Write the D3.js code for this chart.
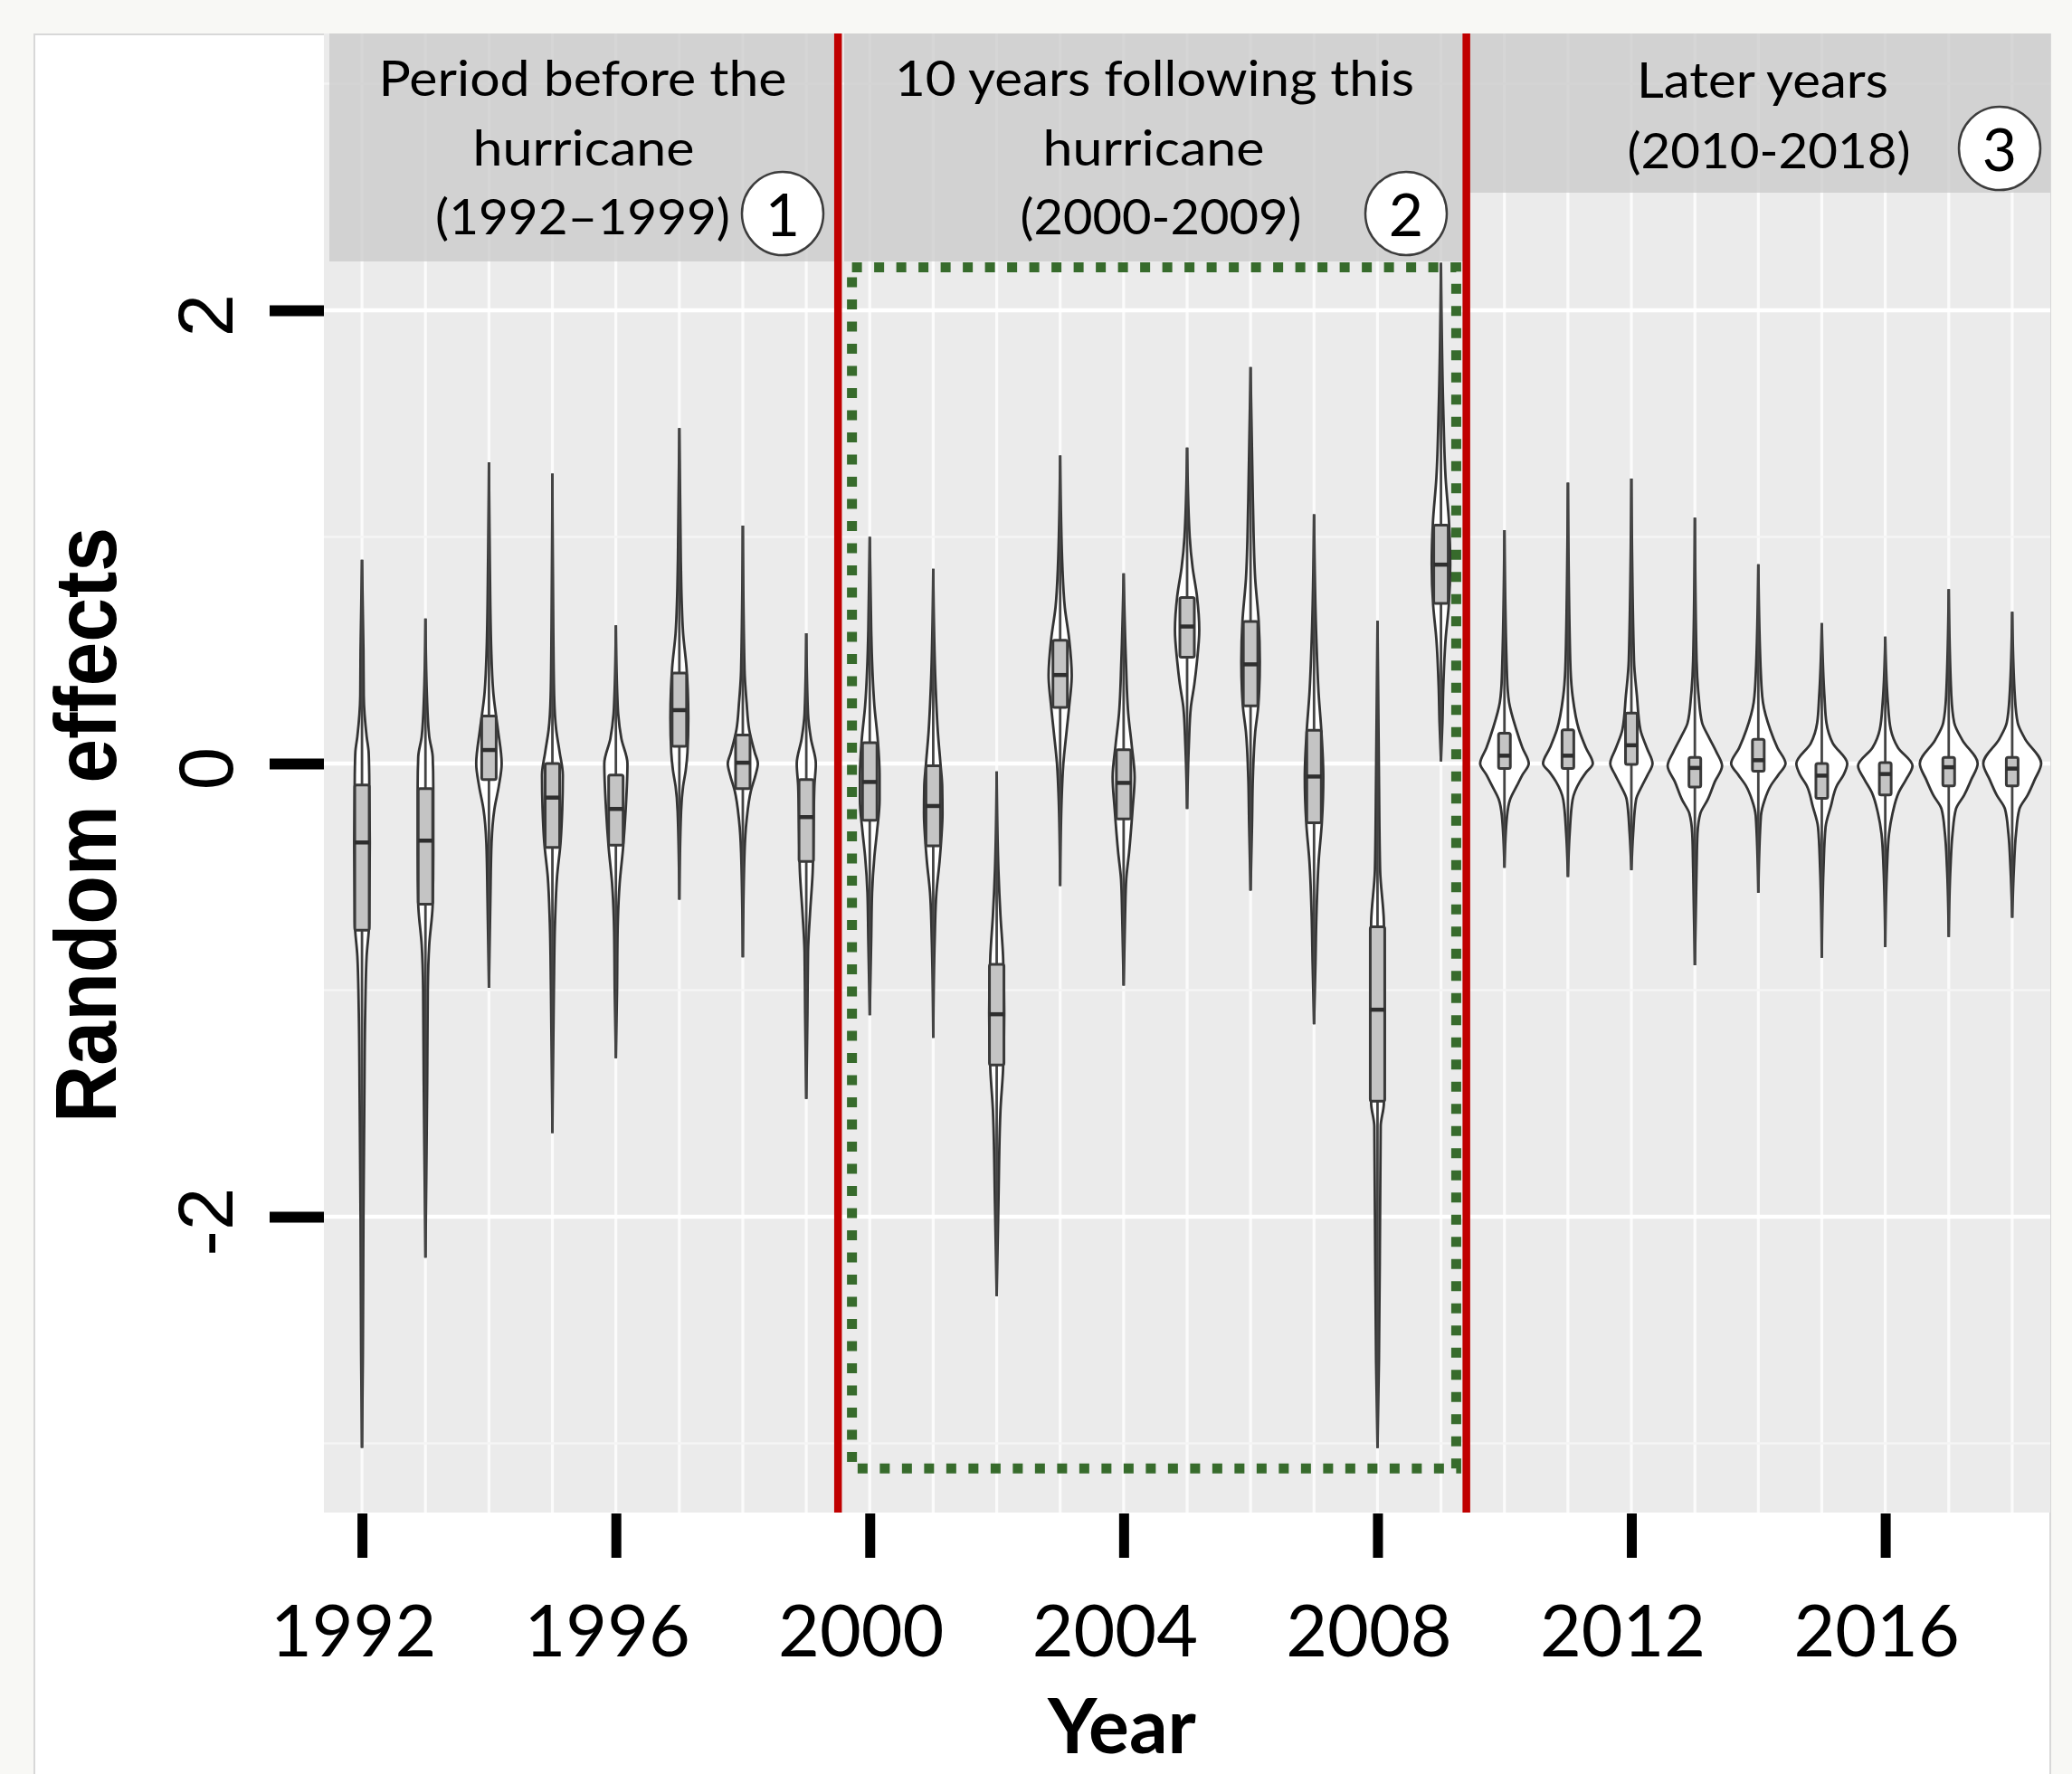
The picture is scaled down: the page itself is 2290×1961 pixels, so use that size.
<!DOCTYPE html>
<html>
<head>
<meta charset="utf-8">
<script src="https://cdn.jsdelivr.net/npm/d3@7"></script>
<style>
  html, body { margin: 0; padding: 0; background: #f8f8f5; }
  svg { display: block; }
</style>
</head>
<body>
<svg id="chart"></svg>
<script>
// ---- data ----
const years = [1992, 1993, 1994, 1995, 1996, 1997, 1998, 1999, 2000, 2001, 2002, 2003, 2004, 2005,
               2006, 2007, 2008, 2009, 2010, 2011, 2012, 2013, 2014, 2015, 2016, 2017, 2018];

const lowest  = [-3.02, -2.18, -0.99, -1.63, -1.30, -0.60, -0.855, -1.48, -1.11, -1.21, -2.35, -0.54, -0.98, -0.20,
                 -0.56, -1.15, -3.02, 0.01, -0.46, -0.50, -0.47, -0.89, -0.57, -0.857, -0.81, -0.765, -0.68];
const quart1  = [-0.735, -0.62, -0.07, -0.37, -0.36, 0.076, -0.11, -0.432, -0.25, -0.363, -1.33, 0.248, -0.244, 0.469,
                 0.255, -0.261, -1.49, 0.707, -0.022, -0.022, -0.004, -0.103, -0.034, -0.153, -0.138, -0.098, -0.098];
const medians = [-0.348, -0.34, 0.06, -0.15, -0.20, 0.236, 0.004, -0.236, -0.081, -0.187, -1.106, 0.391, -0.085, 0.605,
                 0.438, -0.057, -1.086, 0.878, 0.035, 0.035, 0.081, -0.019, 0.015, -0.053, -0.046, -0.016, -0.022];
const quart3  = [-0.094, -0.11, 0.21, 0.0, -0.05, 0.40, 0.126, -0.07, 0.092, -0.01, -0.886, 0.544, 0.061, 0.733,
                 0.627, 0.147, -0.72, 1.052, 0.134, 0.149, 0.223, 0.027, 0.107, 0.0, 0.004, 0.027, 0.027];
const highest = [0.90, 0.64, 1.33, 1.28, 0.61, 1.48, 1.05, 0.575, 1.0, 0.86, -0.035, 1.36, 0.84, 1.395,
                 1.75, 1.10, 0.63, 2.21, 1.03, 1.24, 1.258, 1.085, 0.88, 0.62, 0.56, 0.77, 0.67];

// violin outline per year: [value, relative density]
const violinShapes = [
  [[0.90,0],[0.5,0.05],[0.3,0.06],[0.12,0.16],[0.05,0.23],[-0.05,0.25],[-0.35,0.27],[-0.7,0.25],[-0.85,0.16],[-1.1,0.11],[-1.5,0.08],[-2.0,0.05],[-2.6,0.03],[-3.02,0]],
  [[0.64,0],[0.3,0.05],[0.12,0.13],[0.03,0.25],[-0.1,0.27],[-0.4,0.27],[-0.62,0.25],[-0.8,0.13],[-1.0,0.08],[-1.4,0.06],[-1.8,0.03],[-2.18,0]],
  [[1.33,0],[0.9,0.03],[0.5,0.08],[0.3,0.16],[0.15,0.31],[0.0,0.44],[-0.1,0.34],[-0.2,0.19],[-0.35,0.09],[-0.6,0.05],[-0.99,0]],
  [[1.28,0],[0.6,0.03],[0.3,0.06],[0.15,0.13],[0.05,0.25],[-0.05,0.36],[-0.2,0.34],[-0.35,0.28],[-0.5,0.16],[-0.7,0.09],[-1.0,0.05],[-1.63,0]],
  [[0.61,0],[0.3,0.05],[0.22,0.08],[0.11,0.19],[0.0,0.40],[-0.2,0.34],[-0.37,0.25],[-0.53,0.13],[-0.74,0.06],[-1.0,0.04],[-1.30,0]],
  [[1.48,0],[0.9,0.05],[0.72,0.08],[0.575,0.13],[0.42,0.25],[0.2,0.31],[0.05,0.28],[-0.03,0.22],[-0.1,0.13],[-0.21,0.06],[-0.60,0]],
  [[1.05,0],[0.41,0.06],[0.27,0.13],[0.15,0.22],[0.05,0.41],[0.0,0.52],[-0.05,0.44],[-0.12,0.28],[-0.25,0.13],[-0.39,0.06],[-0.855,0]],
  [[0.575,0],[0.22,0.06],[0.11,0.16],[0.0,0.33],[-0.1,0.28],[-0.3,0.25],[-0.48,0.22],[-0.66,0.13],[-0.83,0.06],[-1.1,0.04],[-1.48,0]],
  [[1.0,0],[0.59,0.05],[0.45,0.08],[0.255,0.16],[0.1,0.28],[-0.05,0.34],[-0.16,0.34],[-0.3,0.25],[-0.41,0.16],[-0.57,0.08],[-0.78,0.05],[-1.11,0]],
  [[0.86,0],[0.35,0.08],[0.14,0.16],[0.0,0.25],[-0.1,0.31],[-0.22,0.32],[-0.33,0.28],[-0.43,0.22],[-0.57,0.11],[-0.78,0.05],[-1.21,0]],
  [[-0.035,0],[-0.47,0.06],[-0.67,0.13],[-0.85,0.22],[-1.1,0.26],[-1.35,0.22],[-1.53,0.13],[-1.94,0.06],[-2.35,0]],
  [[1.36,0],[0.86,0.08],[0.69,0.16],[0.55,0.31],[0.39,0.40],[0.25,0.31],[0.14,0.22],[0.0,0.11],[-0.16,0.05],[-0.54,0]],
  [[0.84,0],[0.45,0.08],[0.22,0.16],[0.08,0.28],[-0.06,0.38],[-0.2,0.31],[-0.39,0.19],[-0.51,0.09],[-0.67,0.05],[-0.98,0]],
  [[1.395,0],[1.0,0.09],[0.865,0.19],[0.74,0.34],[0.59,0.42],[0.45,0.34],[0.35,0.25],[0.25,0.13],[0.08,0.06],[-0.20,0]],
  [[1.75,0],[1.16,0.08],[0.815,0.16],[0.63,0.28],[0.45,0.32],[0.26,0.27],[0.14,0.16],[-0.06,0.08],[-0.27,0.05],[-0.56,0]],
  [[1.10,0],[0.55,0.08],[0.306,0.16],[0.15,0.25],[-0.06,0.32],[-0.26,0.27],[-0.43,0.16],[-0.68,0.08],[-0.88,0.05],[-1.15,0]],
  [[0.63,0],[-0.06,0.05],[-0.47,0.09],[-0.7,0.22],[-1.1,0.25],[-1.5,0.22],[-1.6,0.11],[-1.97,0.09],[-2.63,0.05],[-3.02,0]],
  [[2.21,0],[1.56,0.08],[1.26,0.16],[1.06,0.28],[0.88,0.32],[0.7,0.27],[0.55,0.16],[0.34,0.08],[0.18,0.05],[0.01,0]],
  [[1.03,0],[0.38,0.09],[0.27,0.16],[0.15,0.41],[0.07,0.62],[0.0,0.84],[-0.05,0.62],[-0.095,0.44],[-0.16,0.19],[-0.23,0.09],[-0.46,0]],
  [[1.24,0],[0.455,0.08],[0.30,0.16],[0.15,0.38],[0.07,0.62],[0.0,0.86],[-0.04,0.62],[-0.08,0.41],[-0.16,0.16],[-0.31,0.06],[-0.50,0]],
  [[1.258,0],[0.455,0.09],[0.30,0.19],[0.15,0.31],[0.07,0.53],[0.0,0.73],[-0.05,0.56],[-0.095,0.38],[-0.16,0.16],[-0.31,0.06],[-0.47,0]],
  [[1.085,0],[0.455,0.06],[0.30,0.13],[0.18,0.25],[0.12,0.47],[0.05,0.75],[-0.01,0.94],[-0.08,0.69],[-0.16,0.44],[-0.22,0.19],[-0.31,0.09],[-0.46,0.06],[-0.89,0]],
  [[0.88,0],[0.39,0.09],[0.27,0.16],[0.15,0.41],[0.07,0.66],[0.0,0.94],[-0.05,0.69],[-0.095,0.44],[-0.16,0.22],[-0.23,0.09],[-0.57,0]],
  [[0.62,0],[0.30,0.09],[0.18,0.16],[0.09,0.38],[0.0,0.88],[-0.05,0.75],[-0.095,0.53],[-0.19,0.31],[-0.28,0.13],[-0.46,0.06],[-0.857,0]],
  [[0.56,0],[0.27,0.09],[0.15,0.19],[0.07,0.44],[-0.01,0.94],[-0.07,0.72],[-0.126,0.47],[-0.22,0.25],[-0.31,0.13],[-0.46,0.06],[-0.81,0]],
  [[0.77,0],[0.30,0.09],[0.18,0.19],[0.104,0.47],[0.0,1.0],[-0.07,0.78],[-0.14,0.53],[-0.2,0.25],[-0.31,0.13],[-0.46,0.06],[-0.765,0]],
  [[0.67,0],[0.30,0.09],[0.18,0.19],[0.11,0.44],[0.0,1.0],[-0.07,0.78],[-0.14,0.53],[-0.2,0.25],[-0.31,0.13],[-0.46,0.06],[-0.68,0]]
];

const xTickYears = [1992, 1996, 2000, 2004, 2008, 2012, 2016];
const yTickValues = [-2, 0, 2];
const majorGrid = [-2, 0, 2];
const minorGrid = [-3, -1, 1, 3];

const periodLines = [
  ["Period before the", "hurricane", "(1992\u20131999)"],
  ["10 years following this", "hurricane", "(2000-2009)"],
  ["Later years", "(2010-2018)"]
];
const periodNumbers = ["1", "2", "3"];
const periodBreaks = [1999.5, 2009.4];     // red separators, in year units
const focusBox = {x0: 1999.72, x1: 2009.24, y0: 2.19, y1: -3.11};

// ---- layout ----
const W = 2290, H = 1961;
const panel = {left: 358, right: 2266, top: 37, bottom: 1672};

const svg = d3.select("#chart").attr("width", W).attr("height", H);

svg.append("rect").attr("x", 0).attr("y", 0).attr("width", W).attr("height", H).attr("fill", "#f8f8f5");
// white card
svg.append("rect")
  .attr("x", 38).attr("y", 38).attr("width", panel.right - 38).attr("height", H)
  .attr("fill", "#ffffff").attr("stroke", "#d8d8d8").attr("stroke-width", 2);

const x = d3.scaleLinear().domain([1991.4, 2018.6]).range([panel.left, panel.right]);
const y = d3.scaleLinear().domain([-3.305, 3.222]).range([panel.bottom, panel.top]);
const wScale = d3.scaleLinear().domain([0, 1]).range([0, 32]);

// panel background
svg.append("rect")
  .attr("x", panel.left).attr("y", panel.top)
  .attr("width", panel.right - panel.left).attr("height", panel.bottom - panel.top)
  .attr("fill", "#ebebeb");

// grid
const grid = svg.append("g");
grid.selectAll(".gx").data(years).enter().append("line")
  .attr("x1", d => x(d)).attr("x2", d => x(d))
  .attr("y1", panel.top).attr("y2", panel.bottom)
  .attr("stroke", "#fbfbfb").attr("stroke-width", 3.2);
grid.selectAll(".gmin").data(minorGrid).enter().append("line")
  .attr("x1", panel.left).attr("x2", panel.right)
  .attr("y1", d => y(d)).attr("y2", d => y(d))
  .attr("stroke", "#f5f5f5").attr("stroke-width", 2.5);
grid.selectAll(".gmaj").data(majorGrid).enter().append("line")
  .attr("x1", panel.left).attr("x2", panel.right)
  .attr("y1", d => y(d)).attr("y2", d => y(d))
  .attr("stroke", "#ffffff").attr("stroke-width", 4.5);

// violins + boxes
const violinArea = (cx) => d3.area()
  .curve(d3.curveMonotoneY)
  .y(d => y(d[0]))
  .x0(d => cx - wScale(d[1]))
  .x1(d => cx + wScale(d[1]));

const marks = svg.append("g");
years.forEach((yr, i) => {
  const cx = x(yr);
  const hb = yr >= 2010 ? 6.5 : 8;   // box half width
  const g = marks.append("g").attr("class", "violin y" + yr);

  g.append("path")
    .datum(violinShapes[i])
    .attr("d", violinArea(cx))
    .attr("fill", "#ffffff")
    .attr("stroke", "#333")
    .attr("stroke-width", 2.8);

  g.append("line")
    .attr("x1", cx).attr("x2", cx)
    .attr("y1", y(highest[i])).attr("y2", y(lowest[i]))
    .attr("stroke", "#444").attr("stroke-width", 2.8);

  g.append("rect")
    .attr("x", cx - hb).attr("width", hb * 2)
    .attr("y", y(quart3[i])).attr("height", y(quart1[i]) - y(quart3[i]))
    .attr("rx", 2)
    .attr("fill", "#c4c4c4").attr("stroke", "#3a3a3a").attr("stroke-width", 3);

  g.append("line")
    .attr("x1", cx - hb).attr("x2", cx + hb)
    .attr("y1", y(medians[i])).attr("y2", y(medians[i]))
    .attr("stroke", "#2e2e2e").attr("stroke-width", 4.5);
});

// header boxes
const headerBoxes = [
  {x0: 364, x1: 925, y1: 289},
  {x0: 933, x1: 1617, y1: 289},
  {x0: 1623, x1: panel.right, y1: 213}
];
const headers = svg.append("g");
headers.selectAll("rect").data(headerBoxes).enter().append("rect")
  .attr("x", d => d.x0).attr("y", panel.top)
  .attr("width", d => d.x1 - d.x0).attr("height", d => d.y1 - panel.top)
  .attr("fill", "#c8c7c8").attr("opacity", 0.72);

const headerText = [
  {cx: [644, 645, 644], base: [106, 183, 259], len: [451, 245, 326]},
  {cx: [1276, 1275, 1283], base: [106, 183, 259], len: [574, 245, 311]},
  {cx: [1948, 1955], base: [108, 186], len: [278, 313]}
];
periodLines.forEach((lines, p) => {
  lines.forEach((txt, k) => {
    headers.append("text")
      .attr("x", headerText[p].cx[k]).attr("y", headerText[p].base[k])
      .attr("text-anchor", "middle")
      .attr("font-family", "Lato, 'Open Sans', sans-serif")
      .attr("font-size", 54)
      .attr("textLength", headerText[p].len[k])
      .attr("lengthAdjust", "spacingAndGlyphs")
      .attr("fill", "#000")
      .text(txt);
  });
});

// red separators
svg.selectAll(".sep").data(periodBreaks).enter().append("line")
  .attr("x1", d => x(d)).attr("x2", d => x(d))
  .attr("y1", panel.top).attr("y2", panel.bottom)
  .attr("stroke", "#c00000").attr("stroke-width", 8.5);

// dotted green focus rectangle
svg.append("rect")
  .attr("x", x(focusBox.x0)).attr("y", y(focusBox.y0))
  .attr("width", x(focusBox.x1) - x(focusBox.x0))
  .attr("height", y(focusBox.y1) - y(focusBox.y0))
  .attr("fill", "none")
  .attr("stroke", "#376b2c").attr("stroke-width", 11)
  .attr("stroke-dasharray", "11 13.5");

// numbered circles
const circlePos = [{cx: 865, cy: 236}, {cx: 1554, cy: 236}, {cx: 2210, cy: 164}];
const circles = svg.append("g");
periodNumbers.forEach((n, i) => {
  circles.append("ellipse")
    .attr("cx", circlePos[i].cx).attr("cy", circlePos[i].cy)
    .attr("rx", 45).attr("ry", 46)
    .attr("fill", "#fff").attr("stroke", "#3c3c3c").attr("stroke-width", 2.5);
  circles.append("text")
    .attr("x", circlePos[i].cx).attr("y", circlePos[i].cy + 25)
    .attr("text-anchor", "middle")
    .attr("font-family", "Lato, 'Open Sans', sans-serif")
    .attr("font-size", 66)
    .attr("fill", "#000")
    .text(n);
});

// x axis
const xAxis = svg.append("g")
  .attr("transform", `translate(0,${panel.bottom + 1})`)
  .call(d3.axisBottom(x).tickValues(xTickYears).tickSize(49).tickSizeOuter(0).tickFormat(d => String(d)));
xAxis.select(".domain").remove();
xAxis.selectAll(".tick line").attr("stroke", "#000").attr("stroke-width", 11);
xAxis.selectAll(".tick text")
  .attr("y", 158).attr("dy", 0).attr("dx", -10)
  .attr("font-family", "Lato, 'Open Sans', sans-serif")
  .attr("font-size", 79)
  .attr("fill", "#000");

// y axis
const yAxis = svg.append("g")
  .attr("transform", `translate(${panel.left},0)`)
  .call(d3.axisLeft(y).tickValues(yTickValues).tickSize(60).tickSizeOuter(0).tickFormat(d => String(d)));
yAxis.select(".domain").remove();
yAxis.selectAll(".tick line").attr("stroke", "#000").attr("stroke-width", 12);
yAxis.selectAll(".tick text")
  .attr("x", 0).attr("y", 0).attr("dy", 0)
  .attr("transform", "translate(-101,5) rotate(-90)")
  .attr("text-anchor", "middle")
  .attr("font-family", "'Liberation Sans', Arial, sans-serif")
  .attr("font-size", 85)
  .attr("fill", "#000");

// axis titles
svg.append("text")
  .attr("transform", "translate(128,912) rotate(-90)")
  .attr("text-anchor", "middle")
  .attr("font-family", "'Liberation Sans', Arial, sans-serif")
  .attr("font-weight", "bold")
  .attr("font-size", 96)
  .attr("textLength", 658)
  .attr("lengthAdjust", "spacingAndGlyphs")
  .attr("fill", "#000")
  .text("Random effects");

svg.append("text")
  .attr("x", 1240).attr("y", 1938)
  .attr("text-anchor", "middle")
  .attr("font-family", "Lato, 'Open Sans', sans-serif")
  .attr("font-weight", "bold")
  .attr("font-size", 84)
  .attr("fill", "#000")
  .text("Year");
</script>
</body>
</html>
